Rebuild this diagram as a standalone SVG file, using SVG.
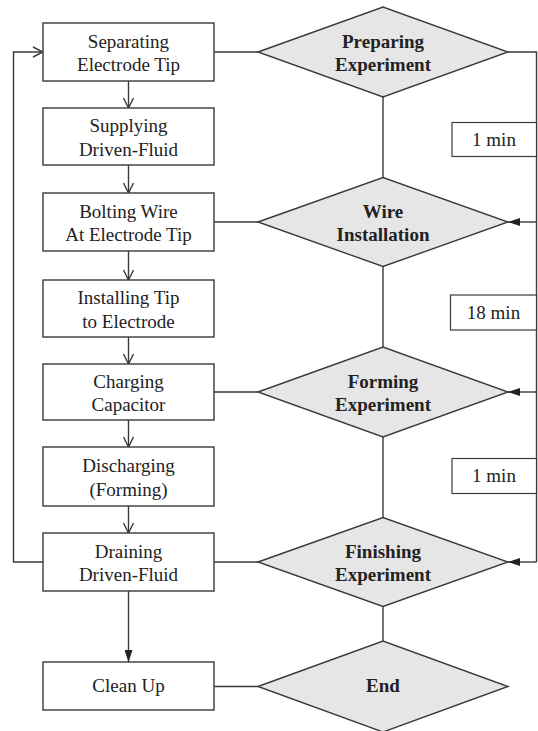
<svg xmlns="http://www.w3.org/2000/svg" width="538" height="731" viewBox="0 0 538 731">
<style>
.box{fill:#ffffff;stroke:#3a3a3a;stroke-width:1.4}
.dia{fill:#e6e6e6;stroke:#3a3a3a;stroke-width:1.4}
.tbox{fill:#ffffff;stroke:#3a3a3a;stroke-width:1.2}
.ln{fill:none;stroke:#3a3a3a;stroke-width:1.4}
text{font-family:"Liberation Serif","Times New Roman",serif;font-size:19px;fill:#222;text-anchor:middle}
.b{font-weight:bold}
</style>
<defs>
<marker id="open" viewBox="0 0 12 12" refX="11" refY="6" markerWidth="12" markerHeight="12" markerUnits="userSpaceOnUse" orient="auto">
<path d="M1,1 L11,6 L1,11" fill="none" stroke="#3a3a3a" stroke-width="1.4"/>
</marker>
<marker id="fill" viewBox="0 0 12 8" refX="12" refY="4" markerWidth="12" markerHeight="8" markerUnits="userSpaceOnUse" orient="auto">
<path d="M0,0 L12,4 L0,8 Z" fill="#222"/>
</marker>
</defs>
<g id="connectors">
<line class="ln" x1="128.5" y1="81" x2="128.5" y2="108" marker-end="url(#open)"/>
<line class="ln" x1="128.5" y1="165" x2="128.5" y2="193" marker-end="url(#open)"/>
<line class="ln" x1="128.5" y1="251" x2="128.5" y2="280" marker-end="url(#open)"/>
<line class="ln" x1="128.5" y1="337" x2="128.5" y2="364" marker-end="url(#open)"/>
<line class="ln" x1="128.5" y1="420" x2="128.5" y2="447" marker-end="url(#open)"/>
<line class="ln" x1="128.5" y1="506" x2="128.5" y2="533" marker-end="url(#open)"/>
<line class="ln" x1="128.5" y1="591" x2="128.5" y2="662" marker-end="url(#fill)"/>
<polyline class="ln" points="43,562 13.5,562 13.5,52 43,52" marker-end="url(#open)"/>
<line class="ln" x1="214" y1="52" x2="258" y2="52"/>
<line class="ln" x1="214" y1="222" x2="258" y2="222"/>
<line class="ln" x1="214" y1="392" x2="258" y2="392"/>
<line class="ln" x1="214" y1="562" x2="258" y2="562"/>
<line class="ln" x1="214" y1="686.5" x2="258" y2="686.5"/>
<line class="ln" x1="383" y1="97" x2="383" y2="177.5"/>
<line class="ln" x1="383" y1="266.5" x2="383" y2="347"/>
<line class="ln" x1="383" y1="437" x2="383" y2="517.5"/>
<line class="ln" x1="383" y1="606.5" x2="383" y2="641"/>
<polyline class="ln" points="508,52 536.5,52 536.5,562"/>
<line class="ln" x1="536.5" y1="222" x2="508" y2="222" marker-end="url(#fill)"/>
<line class="ln" x1="536.5" y1="392" x2="508" y2="392" marker-end="url(#fill)"/>
<line class="ln" x1="536.5" y1="562" x2="508" y2="562" marker-end="url(#fill)"/>
</g>
<g id="n1"><rect class="box" x="43" y="23" width="171" height="58"/><text x="128.5" y="47.5">Separating</text><text x="128.5" y="71">Electrode Tip</text></g>
<g id="n2"><rect class="box" x="43" y="108" width="171" height="57"/><text x="128.5" y="132">Supplying</text><text x="128.5" y="155.5">Driven-Fluid</text></g>
<g id="n3"><rect class="box" x="43" y="193" width="171" height="58"/><text x="128.5" y="217.5">Bolting Wire</text><text x="128.5" y="241">At Electrode Tip</text></g>
<g id="n4"><rect class="box" x="43" y="280" width="171" height="57"/><text x="128.5" y="304">Installing Tip</text><text x="128.5" y="327.5">to Electrode</text></g>
<g id="n5"><rect class="box" x="43" y="364" width="171" height="56"/><text x="128.5" y="387.5">Charging</text><text x="128.5" y="411">Capacitor</text></g>
<g id="n6"><rect class="box" x="43" y="447" width="171" height="59"/><text x="128.5" y="472">Discharging</text><text x="128.5" y="495.5">(Forming)</text></g>
<g id="n7"><rect class="box" x="43" y="533" width="171" height="58"/><text x="128.5" y="557.5">Draining</text><text x="128.5" y="581">Driven-Fluid</text></g>
<g id="n8"><rect class="box" x="43" y="662" width="171" height="48"/><text x="128.5" y="692">Clean Up</text></g>
<g id="d1"><polygon class="dia" points="258,52 383,7 508,52 383,97"/><text class="b" x="383" y="47.5">Preparing</text><text class="b" x="383" y="71">Experiment</text></g>
<g id="d2"><polygon class="dia" points="258,222 383,177.5 508,222 383,266.5"/><text class="b" x="383" y="217.5">Wire</text><text class="b" x="383" y="241">Installation</text></g>
<g id="d3"><polygon class="dia" points="258,392 383,347 508,392 383,437"/><text class="b" x="383" y="387.5">Forming</text><text class="b" x="383" y="411">Experiment</text></g>
<g id="d4"><polygon class="dia" points="258,562 383,517.5 508,562 383,606.5"/><text class="b" x="383" y="557.5">Finishing</text><text class="b" x="383" y="581">Experiment</text></g>
<g id="d5"><polygon class="dia" points="258,686.5 383,641 508,686.5 383,732"/><text class="b" x="383" y="692">End</text></g>
<g id="t1"><rect class="tbox" x="452" y="122.5" width="84.5" height="34"/><text x="494" y="145.5">1 min</text></g>
<g id="t2"><rect class="tbox" x="450.5" y="295" width="86" height="35"/><text x="493.5" y="318.5">18 min</text></g>
<g id="t3"><rect class="tbox" x="452" y="458.5" width="84.5" height="35"/><text x="494" y="482">1 min</text></g>
</svg>
